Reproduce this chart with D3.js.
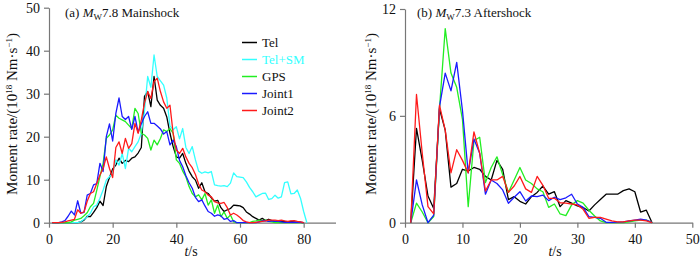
<!DOCTYPE html>
<html>
<head>
<meta charset="utf-8">
<script src="https://cdn.jsdelivr.net/npm/d3@7"></script>
<style>
  body { margin: 0; background: #fff; }
  svg { display: block; font-family: "Liberation Serif", "Times New Roman", serif; }
  svg text { font-family: "Liberation Serif", "Times New Roman", serif; }
</style>
</head>
<body>
<div id="chart"></div>
<script>
// series names and colours (same for both panels)
const seriesNames = ["Tel", "Tel+SM", "GPS", "Joint1", "Joint2"];
const seriesColors = ["#000000", "#33ffff", "#22ee22", "#1a1aff", "#ff1a1a"];

// (a) Mw7.8 mainshock, 1 s sampling starting at t = 1 s
const mainStart = 1;
const mainTel = [0,0,0,0,0,0,0,0,
  0,0.2,0.6,1.5,1.4,2.4,3.5,5,4,8.4,10.5,12.5,
  13.4,15,13.8,14.5,14.2,15,15.3,16.2,17.5,29.4,
  30.5,27,34,28.5,27.3,26.6,24.6,20.8,17.7,15.3,
  15,16.1,13.8,12,10.7,9.9,8,9.3,7.2,6.8,
  5.8,5,5.2,3.5,2.6,3,3.3,4.1,4,3.9,
  3.5,2.5,2,1.4,1,0.6,1,0.5,0.8,0.5,
  0.3,0.4,0.3,0.3,0.2,0.3,0.2,0.1,0.1,0];
const mainTelSM = [0,0,0,0,0,0,0,0,0,
  0.2,0.8,1.4,2.2,3.7,4.1,5.7,7.6,9.9,10.7,11.5,
  14.6,13.4,16.1,12.6,17.3,16.5,17.7,18.8,20.8,26,
  34,31.5,39,34,33,32,29,22.5,21.6,22.3,
  19.5,21.9,17.5,16.1,17.7,14.6,12,11.5,11.8,11.6,
  11.9,8.8,8.6,8.5,8.6,8.4,9.2,11.6,10.7,10.6,
  10.5,9.5,8.2,7.2,6,6.4,6.8,6.9,5.4,5.6,
  6.4,5.7,6,9.3,9.5,6.7,6.8,7.6,5.7,2.6,0];
const mainGPS = [0,0,0,0,0,0,
  0.2,0.6,0.8,1,1.6,2.3,3.7,4.5,7.5,10.7,13.8,19.6,20.4,21.6,
  25,24.3,23.9,23.5,22.7,21.9,26.6,25.4,20.8,20.4,
  19.6,16.9,19.2,18.1,19.6,21.6,21.2,21.9,20.8,14.6,
  13.8,12,10.7,8.4,6.8,6,6.5,5.3,6.8,4.1,
  5.3,2.2,4.1,1.4,2.5,1,1.8,0.2,0,0,
  0,0,0,0.3,0.4,0.6,0.5,0.6,0.3,0.2,
  0,0,0,0,0,0,0,0,0,0];
const mainJoint1 = [0,0,0,
  0.2,0.5,1.5,2.7,1.8,5.1,2.2,2.4,6.4,6.8,8.8,9.1,13.8,11.9,20,23,19,
  25.4,29,24.7,24,24.7,21.7,24.7,21,23,24.7,
  25.8,23.1,23.1,22.5,21.8,20.6,21.2,18.1,19.2,17.7,
  14.5,13,10.9,9.3,8,5.9,4.9,5.3,3.9,2.6,
  2.2,1.5,1.8,1.6,0.8,1,0.3,0.5,0,0,
  0,0,0,0,0,0.2,0.4,0.5,0.3,0.4,
  0.3,0.3,0.2,0.1,0.1,0.1,0.1,0.1,0.1,0];
const mainJoint2 = [0,0,0,
  0.1,0.2,0.4,0.6,0.8,3,2.2,2.5,5,6.8,7.2,9.1,11.1,12.6,15.3,12.6,10.5,
  17.5,18.8,16.1,19.6,17.3,18.4,23.1,20.8,23.9,27.8,
  30.5,28.9,32.8,33.6,30.5,28.1,26.6,27.3,20.8,16.9,
  16.1,17.3,15.3,13.8,12.8,11.2,9,7.6,7.2,6.4,
  6,4.9,4.6,4.5,4.7,3.5,1.8,2.2,1.8,1.2,
  0.5,0.2,0,0,0.1,0.2,0.3,0.4,0.6,0.6,
  0.6,0.5,0.6,0.4,0.3,0.4,0.5,0.3,0.2,0];

// (b) Mw7.3 aftershock, 1 s sampling starting at t = 1 s
const afterStart = 1;
const afterTel = [0,5.3,3.5,1.5,0.8,6.4,5.2,2.0,2.2,3.0,
  2.9,3.1,3.0,2.6,2.4,3.5,3.0,1.3,1.46,1.2,
  1.05,1.46,1.7,2.06,1.6,1.74,0.9,1.24,1.1,0.94,
  0.85,0.66,1.0,1.3,1.6,1.6,1.6,1.8,1.9,1.74,0.6,0.7,0];
const afterTelSM = [];
const afterGPS = [0,1.1,0.6,0,0.35,6.4,10.9,8.4,7.6,5.8,
  0.9,4.6,4.8,2.25,3.1,3.7,2.7,1.7,2.4,3.1,
  2.4,2.2,1.9,1.74,0.86,1.05,0.49,0.4,1.0,1.24,
  1.1,0.7,0.38,0.1,0,0,0,0,0.05,0.1,0.15,0.15,0];
const afterJoint1 = [0,2.4,1.0,0,0.43,6.5,8.4,7.4,9.0,6.3,
  2.8,4.7,3.9,1.6,2.4,2.2,1.84,1.09,1.43,1.74,
  1.22,1.5,1.46,1.55,1.24,1.43,1.3,1.4,1.6,1.05,
  0.86,0.34,0.3,0.25,0.02,0.02,0.03,0.05,0.1,0.15,0.2,0.15,0];
const afterJoint2 = [0,7.2,3.9,0.9,0.5,6.6,5.2,2.8,4.1,3.5,
  2.8,5.1,3.9,1.78,2.4,2.4,2.6,1.7,2.06,2.6,
  1.9,1.7,2.6,2.1,1.37,1.37,1.12,1.1,1.05,1.0,
  0.75,0.25,0.3,0.3,0.2,0.1,0.05,0.05,0.1,0.15,0.15,0.1,0];

// axis ticks
const mainXTicks = [0, 20, 40, 60, 80];
const mainYTicks = [0, 10, 20, 30, 40, 50];
const afterXTicks = [0, 10, 20, 30, 40, 50];
const afterYTicks = [0, 6, 12];

const W = 700, H = 260;
const axisColor = "#777";
const serif = "'Liberation Serif', 'Times New Roman', serif";

const svg = d3.select("#chart").append("svg")
    .attr("width", W)
    .attr("height", H);

function drawPanel(opt) {
    const x = d3.scaleLinear().domain(opt.xDomain).range(opt.xRange);
    const y = d3.scaleLinear().domain(opt.yDomain).range(opt.yRange);
    const g = svg.append("g");

    // x axis
    const xa = g.append("g")
        .attr("transform", `translate(0,${opt.yRange[0]})`)
        .call(d3.axisBottom(x).tickValues(opt.xTicks).tickSize(5).tickSizeOuter(0).tickPadding(6));
    // y axis
    const ya = g.append("g")
        .attr("transform", `translate(${opt.xRange[0]},0)`)
        .call(d3.axisLeft(y).tickValues(opt.yTicks).tickSize(5).tickSizeOuter(0).tickPadding(4));

    [xa, ya].forEach(a => {
        a.attr("font-family", serif).attr("font-size", 14);
        a.select(".domain").attr("stroke", axisColor).attr("stroke-width", 1.2);
        a.selectAll(".tick line").attr("stroke", axisColor).attr("stroke-width", 1.2);
        a.selectAll("text").attr("fill", "#111");
    });

    // lines
    const line = d3.line()
        .x((d, i) => x(opt.start + i))
        .y(d => y(d));
    opt.series.forEach((vals, k) => {
        if (!vals.length) return;
        g.append("path")
            .datum(vals)
            .attr("fill", "none")
            .attr("stroke", seriesColors[k])
            .attr("stroke-width", 1.3)
            .attr("stroke-linejoin", "round")
            .attr("d", line);
    });

    // title
    const title = g.append("text")
        .attr("x", opt.titleX)
        .attr("y", 17)
        .style("font-size", "13px")
        .attr("fill", "#111");
    title.append("tspan").text(opt.tag + " ");
    title.append("tspan").style("font-style", "italic").text("M");
    title.append("tspan").attr("dy", 3).style("font-size", "9px").text("W");
    title.append("tspan").attr("dy", -3).text(opt.mag + " " + opt.label);

    // y label
    const yl = g.append("text")
        .attr("transform", `translate(${opt.yLabelX},114) rotate(-90)`)
        .attr("text-anchor", "middle")
        .style("font-size", "15px")
        .attr("fill", "#111");
    yl.append("tspan").text("Moment rate/(10");
    yl.append("tspan").attr("dy", -5).style("font-size", "9px").text("18");
    yl.append("tspan").attr("dy", 5).text(" Nm\u00b7s");
    yl.append("tspan").attr("dy", -5).style("font-size", "9px").text("\u22121");
    yl.append("tspan").attr("dy", 5).text(")");

    // x label
    const xl = g.append("text")
        .attr("x", opt.xLabelX)
        .attr("y", 256)
        .attr("text-anchor", "middle")
        .style("font-size", "14px")
        .attr("fill", "#111");
    xl.append("tspan").style("font-style", "italic").text("t");
    xl.append("tspan").text("/s");

    return g;
}

const gA = drawPanel({
    xDomain: [0, 90], xRange: [49, 335.5],
    yDomain: [0, 50], yRange: [222.7, 7.7],
    xTicks: mainXTicks, yTicks: mainYTicks,
    start: mainStart,
    series: [mainTel, mainTelSM, mainGPS, mainJoint1, mainJoint2],
    tag: "(a)", mag: "7.8", label: "Mainshock", titleX: 65,
    yLabelX: 17, xLabelX: 191
});

drawPanel({
    xDomain: [0, 50], xRange: [405, 692.3],
    yDomain: [0, 12], yRange: [222.7, 9],
    xTicks: afterXTicks, yTicks: afterYTicks,
    start: afterStart,
    series: [afterTel, afterTelSM, afterGPS, afterJoint1, afterJoint2],
    tag: "(b)", mag: "7.3", label: "Aftershock", titleX: 417,
    yLabelX: 376, xLabelX: 555
});

// legend in panel (a)
const legend = gA.append("g").attr("transform", "translate(242,42.5)");
seriesNames.forEach((name, i) => {
    const row = legend.append("g").attr("transform", `translate(0,${i * 17})`);
    row.append("line")
        .attr("x1", 0).attr("x2", 15)
        .attr("stroke", seriesColors[i])
        .attr("stroke-width", 1.5);
    row.append("text")
        .attr("x", 20)
        .attr("y", 4.5)
        .style("font-size", "13px")
        .attr("fill", name === "Tel+SM" ? seriesColors[i] : "#111")
        .text(name);
});
</script>
</body>
</html>
